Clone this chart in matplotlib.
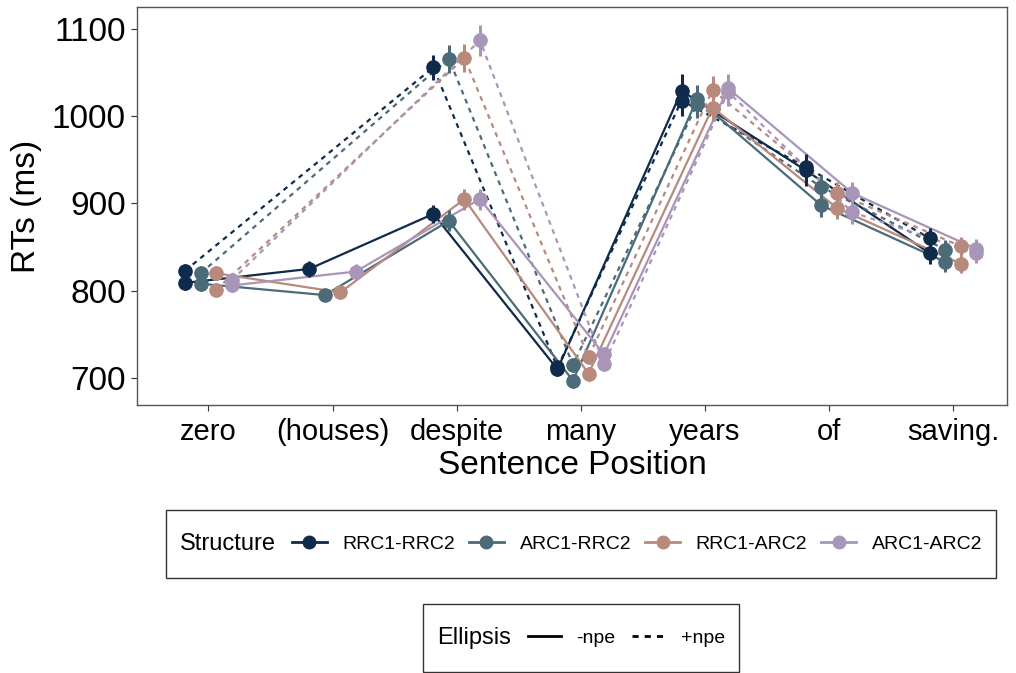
import numpy as np
import matplotlib
matplotlib.use("Agg")
import matplotlib.pyplot as plt
from matplotlib.lines import Line2D
from matplotlib.offsetbox import HPacker, DrawingArea

plt.rcParams['font.family'] = ['Liberation Sans', 'DejaVu Sans']

positions = ["zero", "(houses)", "despite", "many", "years", "of", "saving."]
structures = ["RRC1-RRC2", "ARC1-RRC2", "RRC1-ARC2", "ARC1-ARC2"]
colors = ["#0f2a4a", "#4b6b78", "#b88a7e", "#a995b8"]

# -npe (solid) means per structure
npe_minus = {
    "RRC1-RRC2": [809, 825, 888, 710, 1029, 938, 843],
    "ARC1-RRC2": [808, 795, 880, 697, 1020, 898, 833],
    "RRC1-ARC2": [820, 798, 905, 705, 1010, 895, 831],
    "ARC1-ARC2": [806, 822, 905, 727, 1032, 912, 848],
}
# +npe (dashed) means per structure (no value at "(houses)")
npe_plus = {
    "RRC1-RRC2": [823, np.nan, 1056, 712, 1018, 942, 860],
    "ARC1-RRC2": [820, np.nan, 1066, 715, 1014, 919, 847],
    "RRC1-ARC2": [801, np.nan, 1067, 724, 1030, 912, 851],
    "ARC1-ARC2": [812, np.nan, 1087, 716, 1028, 890, 843],
}
# error-bar half widths
err_minus = {
    "RRC1-RRC2": [8, 9, 10, 8, 19, 18, 12],
    "ARC1-RRC2": [8, 7, 12, 8, 16, 14, 11],
    "RRC1-ARC2": [8, 7, 12, 8, 16, 13, 11],
    "ARC1-ARC2": [8, 9, 12, 8, 16, 13, 11],
}
err_plus = {
    "RRC1-RRC2": [8, np.nan, 14, 8, 18, 15, 12],
    "ARC1-RRC2": [8, np.nan, 16, 8, 16, 14, 11],
    "RRC1-ARC2": [8, np.nan, 16, 8, 16, 13, 11],
    "ARC1-ARC2": [8, np.nan, 18, 8, 16, 13, 11],
}

fig = plt.figure(figsize=(10.16, 6.73), dpi=100)
ax = fig.add_axes([137/1016, 1-405/673, (1007-137)/1016, (405-7)/673])

x = np.arange(len(positions))
offsets = [-0.1875, -0.0625, 0.0625, 0.1875]
dash = (0, (2.2, 2.2))
for s, c, off in zip(structures, colors, offsets):
    xs = x + off
    for vals, errs, ls in [(npe_minus[s], err_minus[s], '-'), (npe_plus[s], err_plus[s], dash)]:
        v = np.array(vals, dtype=float)
        e = np.array(errs, dtype=float)
        m = np.isfinite(v)
        ax.plot(xs[m], v[m], color=c, lw=1.6, linestyle=ls, zorder=2)
        ax.errorbar(xs[m], v[m], yerr=e[m], fmt='none', ecolor=c, elinewidth=2.2, capsize=0, zorder=3)
        ax.plot(xs[m], v[m], 'o', color=c, ms=9.5, zorder=4)

ax.set_xlim(-0.576, 6.435)
ax.set_ylim(669, 1125.2)
ax.set_xticks(x)
ax.set_xticklabels(positions, fontsize=21)
ax.set_yticks([700, 800, 900, 1000, 1100])
ax.tick_params(axis='y', labelsize=24, length=4, color='#333333', pad=4)
ax.tick_params(axis='x', length=4, color='#333333', pad=5)
for sp in ax.spines.values():
    sp.set_color('#555555')
    sp.set_linewidth(1.0)
ax.set_xlabel("Sentence Position", fontsize=24, labelpad=3)
ax.set_ylabel("RTs (ms)", fontsize=24, labelpad=7)

PX = 72 / 100  # points per pixel


def side_title(leg, sep_px, pad_px, height_px):
    inner = HPacker(pad=0, sep=sep_px * PX, align='center',
                    children=[leg._legend_title_box, leg._legend_handle_box])
    spacer = DrawingArea(0, (height_px - 2 * pad_px) * PX)
    new = HPacker(pad=pad_px * PX, sep=0, align='center', children=[spacer, inner])
    new.set_figure(fig)
    new.axes = leg.axes
    new.set_offset(leg._findoffset)
    leg._legend_box = new


h1 = [Line2D([], [], color=c, lw=2, marker='o', ms=9) for c in colors]
leg1 = fig.legend(h1, structures, loc='center', bbox_to_anchor=(581/1016, 1-544/673),
                  ncol=4, fontsize=14, title="Structure", title_fontsize=17,
                  frameon=True, fancybox=False, edgecolor='black', handlelength=1.8,
                  handletextpad=0.8, columnspacing=0.72, borderpad=0.8)
leg1.get_frame().set_linewidth(1.0)
side_title(leg1, 16, 14, 68)

h2 = [Line2D([], [], color='black', lw=2, linestyle='-'),
      Line2D([], [], color='black', lw=2, linestyle=dash)]
leg2 = fig.legend(h2, ["-npe", "+npe"], loc='center', bbox_to_anchor=(581/1016, 1-638/673),
                  ncol=2, fontsize=14, title="Ellipsis", title_fontsize=17,
                  frameon=True, fancybox=False, edgecolor='black', handlelength=1.7,
                  handletextpad=0.8, columnspacing=0.85, borderpad=0.8)
leg2.get_frame().set_linewidth(1.0)
side_title(leg2, 17, 14, 68)

fig.savefig("out.png", dpi=100)
